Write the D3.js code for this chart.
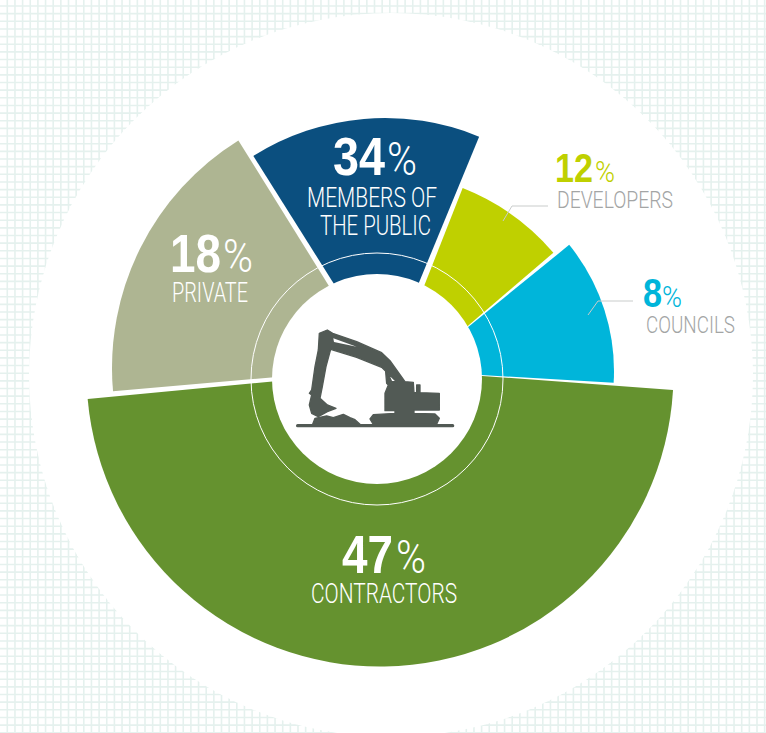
<!DOCTYPE html>
<html>
<head>
<meta charset="utf-8">
<script src="https://cdn.jsdelivr.net/npm/d3@7"></script>
<style>
  html, body { margin: 0; padding: 0; background: #fff; overflow: hidden; }
  .num { font-family: "Liberation Sans Narrow", "Liberation Sans", sans-serif; font-weight: 700; }
  .thin { font-family: Roboto, "Liberation Sans", sans-serif; font-weight: 300; }
</style>
</head>
<body>
<div id="chart"></div>
<script>
// slices clockwise from the navy one
const categories = ["MEMBERS OF|THE PUBLIC", "DEVELOPERS", "COUNCILS", "CONTRACTORS", "PRIVATE"];
const percents = [34, 12, 8, 47, 18];
// the graphic is not proportional, so angles and reach are read off the picture
const startDegrees = [-32.2, 21.5, 50.9, 93.3, -95];
const endDegrees = [22.4, 49.4, 93.4, 264.9, -31.9];
const reach = [247, 231, 200, 293.5, 268];
const colors = ["#0b4f7f", "#bfd000", "#00b5da", "#65922f", "#aeb592"];

const width = 766;
const height = 733;

// each slice has its own arc centre and tip in the original artwork
const centres = [[385, 365], [378, 403], [414, 371], [380, 373], [380, 368]];
const tips = [[385, 365], [378, 403], [414, 371], [396, 369.7], [380, 368]];
const hub = { x: 377, y: 379, r: 105, ring: 126 };

const labelLayout = [
  { num: [333, 175, 52, 54], pct: [387, 175, 30, 46], lines: [[307, 207, 130], [320, 235, 111]], size: 27, numFill: "#fff", textFill: "#fff" },
  { num: [555, 182, 38, 41], pct: [595, 182, 20, 29], lines: [[557, 208, 116]], size: 24.5, numFill: "#bfd000", textFill: "#a3a5a5" },
  { num: [643, 307, 19, 40], pct: [662, 307, 20, 29], lines: [[646, 333, 89]], size: 24.5, numFill: "#00b5da", textFill: "#a3a5a5" },
  { num: [342, 573, 51, 54], pct: [396, 573, 30, 46], lines: [[311, 603, 146]], size: 27, numFill: "#fff", textFill: "#fff" },
  { num: [170, 272, 51, 54], pct: [223, 272, 30, 46], lines: [[172, 302, 76]], size: 27, numFill: "#fff", textFill: "#fff" }
];

const svg = d3.select("#chart").append("svg")
  .attr("width", width)
  .attr("height", height)
  .style("display", "block");

// graph paper background
const gridX = d3.range(7.3, width, 7.65);
const gridY = d3.range(6, height, 7.65);
const gridG = svg.append("g").attr("stroke", "#e5f1ee").attr("stroke-width", 1.6);
gridG.selectAll("line.v").data(gridX).join("line")
  .attr("class", "v")
  .attr("x1", d => d).attr("x2", d => d)
  .attr("y1", 0).attr("y2", height);
gridG.selectAll("line.h").data(gridY).join("line")
  .attr("class", "h")
  .attr("y1", d => d).attr("y2", d => d)
  .attr("x1", 0).attr("x2", width);

svg.append("circle")
  .attr("cx", 391).attr("cy", 375).attr("r", 362)
  .attr("fill", "#fff");

// slices: arc around the centre, then back to the tip
const rad = d => (d - 90) * Math.PI / 180;
function slicePath(i) {
  const p = d3.path();
  p.arc(centres[i][0], centres[i][1], reach[i], rad(startDegrees[i]), rad(endDegrees[i]));
  p.lineTo(tips[i][0], tips[i][1]);
  p.closePath();
  return p.toString();
}

svg.append("g").selectAll("path")
  .data(percents)
  .join("path")
  .attr("d", (d, i) => slicePath(i))
  .attr("fill", (d, i) => colors[i]);

// hub
svg.append("circle")
  .attr("cx", hub.x).attr("cy", hub.y).attr("r", hub.r)
  .attr("fill", "#fff");
svg.append("circle")
  .attr("cx", hub.x).attr("cy", hub.y).attr("r", hub.ring)
  .attr("fill", "none")
  .attr("stroke", "#fff")
  .attr("stroke-width", 1);

// excavator icon, traced at 3x
const digger = svg.append("g")
  .attr("transform", "translate(240,270) scale(0.3333)")
  .attr("fill", "#525a55")
  .attr("stroke", "#525a55")
  .attr("stroke-width", 4)
  .attr("stroke-linejoin", "round");
digger.append("path").attr("d",
  "M238,190 L262,180 L278,190 L350,215 L425,248 L450,272 L495,335 L520,337 L522,368 L530,368 L530,345 L540,345 L540,368 " +
  "L598,370 L598,420 L522,420 L522,430 L585,432 L598,445 L590,463 L400,463 L390,447 L400,434 L465,430 L465,422 L435,422 " +
  "L435,370 L445,345 L440,340 L437,305 L442,305 L455,335 L470,335 L425,292 L350,262 L272,238 L258,290 L247,350 L240,385 " +
  "L262,405 L288,415 L262,425 L235,440 L215,430 L208,405 L215,375 L208,370 L215,360 L225,290 L235,240 Z");
digger.append("path").attr("d",
  "M218,463 L225,445 L260,438 L280,443 L310,433 L330,443 L345,449 L360,463 Z");
digger.append("rect")
  .attr("x", 170).attr("y", 464).attr("width", 471).attr("height", 6).attr("rx", 3);
digger.append("path").attr("fill", "#fff").attr("stroke", "none").attr("d", "M280,205 L350,230 L282,216 Z");

// leader lines
const leader = d3.line();
const leaders = [
  [[503, 221], [512, 206], [548, 206]],
  [[588, 315], [598, 301], [633, 301]]
];
svg.append("g").selectAll("path")
  .data(leaders)
  .join("path")
  .attr("d", leader)
  .attr("fill", "none")
  .attr("stroke", "#c9cccb")
  .attr("stroke-width", 1);

// labels
const labels = svg.append("g");
percents.forEach((p, i) => {
  const l = labelLayout[i];
  labels.append("text")
    .attr("class", "num")
    .attr("x", l.num[0]).attr("y", l.num[1])
    .attr("textLength", l.num[2]).attr("lengthAdjust", "spacingAndGlyphs")
    .attr("font-size", l.num[3])
    .attr("fill", l.numFill)
    .text(p);
  labels.append("text")
    .attr("class", "thin")
    .attr("x", l.pct[0]).attr("y", l.pct[1])
    .attr("textLength", l.pct[2]).attr("lengthAdjust", "spacingAndGlyphs")
    .attr("font-size", l.pct[3])
    .attr("fill", l.numFill)
    .text("%");
  categories[i].split("|").forEach((line, j) => {
    labels.append("text")
      .attr("class", "thin")
      .attr("x", l.lines[j][0]).attr("y", l.lines[j][1])
      .attr("textLength", l.lines[j][2]).attr("lengthAdjust", "spacingAndGlyphs")
      .attr("font-size", l.size)
      .attr("fill", l.textFill)
      .text(line);
  });
});
</script>
</body>
</html>
